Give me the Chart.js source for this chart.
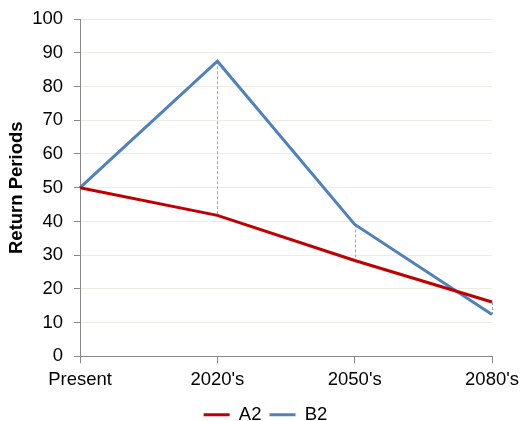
<!DOCTYPE html>
<html>
<head>
<meta charset="utf-8">
<script src="https://cdn.jsdelivr.net/npm/chart.js@4/dist/chart.umd.min.js"></script>
<style>
  html, body { margin: 0; padding: 0; background: #fff; overflow: hidden; }
  #wrap { width: 525px; height: 437px; margin-top: -3px; }
</style>
</head>
<body>
<div id="wrap"><canvas id="returnChart"></canvas></div>
<script>
// Chart data
const periods = ["Present", "2020's", "2050's", "2080's"];
const a2Values = [50, 41.8, 28.4, 16.1];
const b2Values = [50, 87.5, 39.1, 12.4];
const yTicks = [0, 10, 20, 30, 40, 50, 60, 70, 80, 90, 100];

// Dashed high-low lines between the two series at each category
const highLowLines = {
    id: 'highLowLines',
    beforeDatasetsDraw(chart) {
        const { ctx, scales: { x, y } } = chart;
        ctx.save();
        ctx.strokeStyle = '#8AADDA';
        ctx.lineWidth = 1;
        ctx.setLineDash([3, 2]);
        periods.forEach((p, i) => {
            const hi = Math.max(a2Values[i], b2Values[i]);
            const lo = Math.min(a2Values[i], b2Values[i]);
            if (hi === lo) return;
            const px = Math.round(x.getPixelForValue(i)) + 0.5;
            ctx.beginPath();
            ctx.moveTo(px, y.getPixelForValue(hi));
            ctx.lineTo(px, y.getPixelForValue(lo));
            ctx.stroke();
        });
        ctx.restore();
    }
};

Chart.defaults.font.family = '"Liberation Sans", Arial, sans-serif';
Chart.defaults.color = '#000';

const fontSize = 18.5;

const ctx = document.getElementById('returnChart').getContext('2d');
new Chart(ctx, {
    type: 'line',
    data: {
        labels: periods,
        datasets: [
            {
                label: 'A2',
                data: a2Values,
                borderColor: '#C00000',
                backgroundColor: '#C00000',
                borderWidth: 3,
                pointRadius: 0,
                tension: 0
            },
            {
                label: 'B2',
                data: b2Values,
                borderColor: '#4F81BD',
                backgroundColor: '#4F81BD',
                borderWidth: 3,
                pointRadius: 0,
                tension: 0
            }
        ]
    },
    options: {
        responsive: true,
        maintainAspectRatio: false,
        animation: false,
        layout: { padding: { left: 6, right: 0, top: 0, bottom: 0 } },
        plugins: {
            legend: {
                position: 'bottom',
                labels: {
                    usePointStyle: true,
                    pointStyle: 'line',
                    pointStyleWidth: 26,
                    boxHeight: 3,
                    padding: 8,
                    font: { size: fontSize }
                }
            },
            tooltip: { enabled: false }
        },
        scales: {
            x: {
                offset: false,
                grid: { color: 'transparent', tickColor: '#888', tickLength: 7 },
                border: { color: '#888', width: 1 },
                ticks: { font: { size: fontSize }, padding: 6 }
            },
            y: {
                min: 0,
                max: 100,
                afterBuildTicks(axis) { axis.ticks = yTicks.map(v => ({ value: v })); },
                grid: { color: '#EEEDE4', tickColor: '#888', tickLength: 6 },
                border: { color: '#888', width: 1 },
                ticks: { font: { size: fontSize }, padding: 11 },
                title: {
                    display: true,
                    text: 'Return Periods',
                    font: { size: fontSize, weight: 'bold' },
                    padding: { top: 0, bottom: -7 }
                }
            }
        }
    },
    plugins: [highLowLines]
});
</script>
</body>
</html>
